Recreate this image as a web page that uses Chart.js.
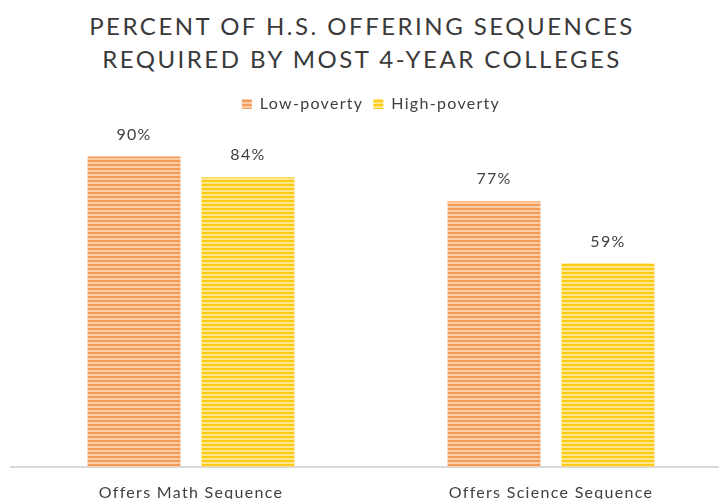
<!DOCTYPE html>
<html>
<head>
<meta charset="utf-8">
<script src="https://cdn.jsdelivr.net/npm/chart.js@4"></script>
<style>
  html, body { margin: 0; padding: 0; background: #fff; overflow: hidden; }
  #wrap { position: relative; width: 719px; height: 499px; overflow: hidden; }
  #title {
    position: absolute; left: 0; top: 9px; width: 724px; text-align: center;
    font-family: Lato, "Open Sans", sans-serif; font-size: 24px; line-height: 33px;
    letter-spacing: 2.5px; color: #3a3a3a;
  }
  #box { position: absolute; left: 0; top: 0; width: 742px; height: 518px; }
</style>
</head>
<body>
<div id="wrap">
  <div id="title">PERCENT OF H.S. OFFERING SEQUENCES<br>REQUIRED BY MOST 4-YEAR COLLEGES</div>
  <div id="box"><canvas id="chart"></canvas></div>
</div>
<script>
const categories = ['Offers Math Sequence', 'Offers Science Sequence'];
const lowPoverty = [90, 77];
const highPoverty = [84, 59];
const seriesNames = ['Low-poverty', 'High-poverty'];

const fontFamily = 'Lato, "Open Sans", sans-serif';

// striped fill like the original
function stripes(dark, light) {
    const c = document.createElement('canvas');
    c.width = 4; c.height = 4;
    const g = c.getContext('2d');
    g.fillStyle = dark;
    g.fillRect(0, 0, 4, 4);
    g.fillStyle = light;
    g.fillRect(0, 2, 4, 1);
    g.fillRect(0, 3, 4, 1);
    return g.createPattern(c, 'repeat');
}

const orangeFill = stripes('#f59a57', '#fbcda9');
const yellowFill = stripes('#ffcb14', '#ffe68c');

// the original text is a bit spaced out
const spacing = {
    id: 'spacing',
    beforeLayout(chart) { chart.ctx.letterSpacing = '1.3px'; },
    beforeDraw(chart) { chart.ctx.letterSpacing = '1.3px'; }
};

const valueLabels = {
    id: 'valueLabels',
    afterDatasetsDraw(chart) {
        const ctx = chart.ctx;
        ctx.save();
        ctx.font = '16px ' + fontFamily;
        ctx.fillStyle = '#404040';
        ctx.textAlign = 'center';
        ctx.textBaseline = 'middle';
        chart.data.datasets.forEach((ds, i) => {
            chart.getDatasetMeta(i).data.forEach((bar, j) => {
                ctx.fillText(ds.data[j] + '%', bar.x, bar.y - 22);
            });
        });
        ctx.restore();
    }
};

new Chart(document.getElementById('chart').getContext('2d'), {
    type: 'bar',
    data: {
        labels: categories,
        datasets: [
            { label: seriesNames[0], data: lowPoverty, backgroundColor: orangeFill },
            { label: seriesNames[1], data: highPoverty, backgroundColor: yellowFill }
        ]
    },
    options: {
        responsive: true,
        maintainAspectRatio: false,
        animation: false,
        categoryPercentage: 0.633,
        barPercentage: 0.816,
        layout: { padding: { top: 86, left: 11, right: 11, bottom: 0 } },
        plugins: {
            legend: {
                position: 'top',
                labels: {
                    boxWidth: 10, boxHeight: 10, padding: 10,
                    color: '#404040',
                    font: { family: fontFamily, size: 16 }
                }
            },
            tooltip: { enabled: false }
        },
        scales: {
            x: {
                grid: { display: false, drawTicks: false },
                border: { color: '#d9d9d9', width: 2 },
                ticks: {
                    padding: 16, color: '#404040',
                    font: { family: fontFamily, size: 16 }
                }
            },
            y: { display: false, min: 0, max: 100 }
        }
    },
    plugins: [spacing, valueLabels]
});
</script>
</body>
</html>
